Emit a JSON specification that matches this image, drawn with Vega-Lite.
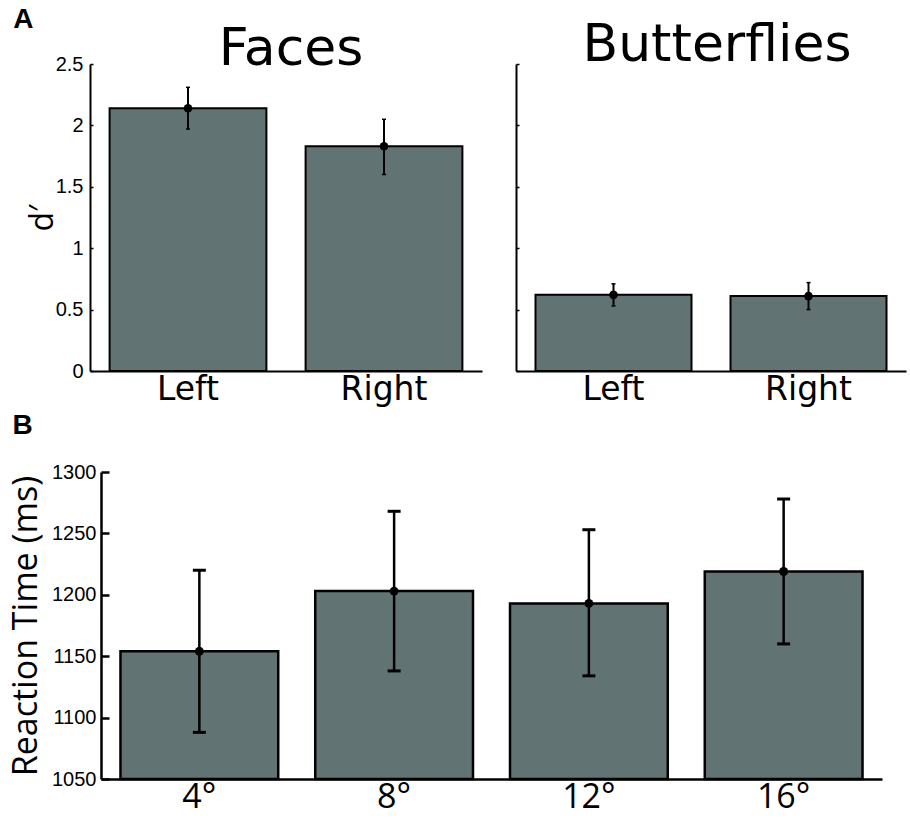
{
  "$schema": "https://vega.github.io/schema/vega-lite/v6.json",
  "background": "white",
  "padding": {"left": 9, "top": 6, "right": 4, "bottom": 0},
  "config": {
    "view": {"stroke": null},
    "font": "Open Sans",
    "axis": {
      "grid": false,
      "domainColor": "black",
      "tickColor": "black",
      "labelColor": "black",
      "titleColor": "black",
      "labelFont": "Open Sans",
      "titleFont": "Open Sans",
      "titleFontWeight": "normal"
    },
    "title": {"color": "black", "fontWeight": "normal", "font": "DejaVu Sans"}
  },
  "spacing": 6,
  "vconcat": [
    {
      "title": {"text": "A", "anchor": "start", "frame": "bounds", "font": "Liberation Sans", "fontWeight": "bold", "fontSize": 28, "offset": -15, "dx": -13},
      "spacing": 33,
      "hconcat": [
        {
          "title": {"text": "Faces", "fontSize": 52, "offset": -22, "dx": 5},
          "width": 392,
          "height": 307,
          "data": {"values": [
            {"side": "Left", "mean": 2.14, "lo": 1.97, "hi": 2.31},
            {"side": "Right", "mean": 1.83, "lo": 1.6, "hi": 2.05}
          ]},
          "encoding": {
            "x": {
              "field": "side", "type": "nominal", "sort": null,
              "scale": {"paddingInner": 0.2, "paddingOuter": 0.1},
              "axis": {"title": null, "labelAngle": 0, "labelFont": "DejaVu Sans", "labelFontSize": 33, "ticks": false, "labelPadding": 2, "domainWidth": 2}
            }
          },
          "layer": [
            {
              "mark": {"type": "bar", "fill": "#627373", "stroke": "black", "strokeWidth": 2},
              "encoding": {
                "y": {
                  "field": "mean", "type": "quantitative",
                  "scale": {"domain": [0, 2.5], "nice": false, "padding": 0},
                  "axis": {"title": "d′", "titleFontSize": 32, "titlePadding": -4, "values": [0, 0.5, 1, 1.5, 2, 2.5], "format": "~g", "labelFont": "Liberation Sans", "labelFontSize": 20, "tickSize": -3, "tickWidth": 1.5, "labelPadding": 10, "domainWidth": 2}
                }
              }
            },
            {
              "mark": {"type": "rule", "color": "black", "strokeWidth": 2},
              "encoding": {"y": {"field": "lo", "type": "quantitative"}, "y2": {"field": "hi"}}
            },
            {
              "mark": {"type": "tick", "color": "black", "size": 4, "thickness": 1.5, "opacity": 1},
              "encoding": {"y": {"field": "lo", "type": "quantitative"}}
            },
            {
              "mark": {"type": "tick", "color": "black", "size": 4, "thickness": 1.5, "opacity": 1},
              "encoding": {"y": {"field": "hi", "type": "quantitative"}}
            },
            {
              "mark": {"type": "point", "filled": true, "color": "black", "size": 75, "opacity": 1},
              "encoding": {"y": {"field": "mean", "type": "quantitative"}}
            }
          ]
        },
        {
          "title": {"text": "Butterflies", "fontSize": 52, "offset": -9, "dx": 6},
          "width": 390,
          "height": 307,
          "data": {"values": [
            {"side": "Left", "mean": 0.62, "lo": 0.53, "hi": 0.71},
            {"side": "Right", "mean": 0.61, "lo": 0.5, "hi": 0.72}
          ]},
          "encoding": {
            "x": {
              "field": "side", "type": "nominal", "sort": null,
              "scale": {"paddingInner": 0.2, "paddingOuter": 0.1},
              "axis": {"title": null, "labelAngle": 0, "labelFont": "DejaVu Sans", "labelFontSize": 33, "ticks": false, "labelPadding": 2, "domainWidth": 2}
            }
          },
          "layer": [
            {
              "mark": {"type": "bar", "fill": "#627373", "stroke": "black", "strokeWidth": 2},
              "encoding": {
                "y": {
                  "field": "mean", "type": "quantitative",
                  "scale": {"domain": [0, 2.5], "nice": false, "padding": 0},
                  "axis": {"title": null, "labels": false, "values": [0, 0.5, 1, 1.5, 2, 2.5], "tickSize": -3, "tickWidth": 1.5, "domainWidth": 2}
                }
              }
            },
            {
              "mark": {"type": "rule", "color": "black", "strokeWidth": 2},
              "encoding": {"y": {"field": "lo", "type": "quantitative"}, "y2": {"field": "hi"}}
            },
            {
              "mark": {"type": "tick", "color": "black", "size": 4, "thickness": 1.5, "opacity": 1},
              "encoding": {"y": {"field": "lo", "type": "quantitative"}}
            },
            {
              "mark": {"type": "tick", "color": "black", "size": 4, "thickness": 1.5, "opacity": 1},
              "encoding": {"y": {"field": "hi", "type": "quantitative"}}
            },
            {
              "mark": {"type": "point", "filled": true, "color": "black", "size": 75, "opacity": 1},
              "encoding": {"y": {"field": "mean", "type": "quantitative"}}
            }
          ]
        }
      ]
    },
    {
      "title": {"text": "B", "anchor": "start", "frame": "bounds", "font": "Liberation Sans", "fontWeight": "bold", "fontSize": 28, "offset": 22, "dx": 3},
      "width": 792,
      "height": 307,
      "data": {"values": [
        {"ecc": "4°", "mean": 1154, "lo": 1088, "hi": 1220},
        {"ecc": "8°", "mean": 1203, "lo": 1138, "hi": 1268},
        {"ecc": "12°", "mean": 1193, "lo": 1134, "hi": 1253},
        {"ecc": "16°", "mean": 1219, "lo": 1160, "hi": 1278}
      ]},
      "encoding": {
        "x": {
          "field": "ecc", "type": "nominal", "sort": null,
          "scale": {"range": [11, 792], "paddingInner": 0.19, "paddingOuter": 0.1},
          "axis": {"title": null, "labelAngle": 0, "labelFontSize": 34, "ticks": false, "labelPadding": 1, "domainWidth": 2.5}
        }
      },
      "layer": [
        {
          "mark": {"type": "bar", "fill": "#627373", "stroke": "black", "strokeWidth": 2.5},
          "encoding": {
            "y": {
              "field": "mean", "type": "quantitative",
              "scale": {"domain": [1050, 1300], "zero": false, "nice": false, "padding": 0},
              "axis": {"title": "Reaction Time (ms)", "titleFontSize": 34, "titlePadding": 8, "offset": -11, "values": [1050, 1100, 1150, 1200, 1250, 1300], "format": "d", "labelFont": "Liberation Sans", "labelFontSize": 20, "tickSize": -8, "tickWidth": 2.5, "labelPadding": 13, "domainWidth": 2.5}
            },
            "y2": {"datum": 1050}
          }
        },
        {
          "mark": {"type": "rule", "color": "black", "strokeWidth": 2.5},
          "encoding": {"y": {"field": "lo", "type": "quantitative"}, "y2": {"field": "hi"}}
        },
        {
          "mark": {"type": "tick", "color": "black", "size": 13, "thickness": 3, "opacity": 1},
          "encoding": {"y": {"field": "lo", "type": "quantitative"}}
        },
        {
          "mark": {"type": "tick", "color": "black", "size": 13, "thickness": 3, "opacity": 1},
          "encoding": {"y": {"field": "hi", "type": "quantitative"}}
        },
        {
          "mark": {"type": "point", "filled": true, "color": "black", "size": 80, "opacity": 1},
          "encoding": {"y": {"field": "mean", "type": "quantitative"}}
        }
      ]
    }
  ]
}
